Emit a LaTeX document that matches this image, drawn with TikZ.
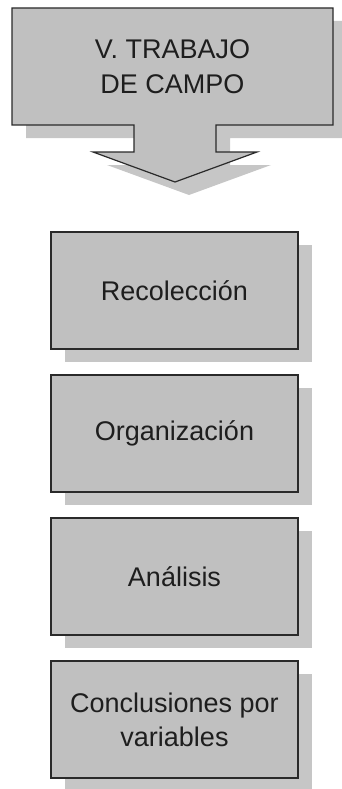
\documentclass[tikz,border=0pt]{standalone}
\usepackage{fontspec}
\setmainfont{Liberation Sans}
\usepackage{xcolor}
\usepackage{tikz}
\usetikzlibrary{positioning,shadows}
\definecolor{BoxGray}{HTML}{C0C0C0}
\definecolor{ShadowGray}{HTML}{C6C6C6}
\definecolor{EdgeGray}{HTML}{2A2A2A}
\definecolor{TextGray}{HTML}{1E1E1E}

\begin{document}
\begin{tikzpicture}[
  x=1pt,y=1pt,
  node distance=26pt,
  shade/.style={drop shadow={shadow xshift=14pt,shadow yshift=-13pt,fill=ShadowGray,opacity=1}},
  callout/.style={draw=EdgeGray,fill=BoxGray,line width=1.2pt,line join=miter,shade},
  titletext/.style={text=TextGray,align=center,font=\fontsize{27}{35}\selectfont},
  stepbox/.style={draw=EdgeGray,fill=BoxGray,line width=1.2pt,minimum width=247pt,minimum height=117pt,
    outer sep=0pt,inner sep=0pt,align=center,text=TextGray,font=\fontsize{27}{34}\selectfont,shade}
]
\useasboundingbox (0,0) rectangle (341,-789);
% cuadro con flecha
\path[callout] (12,-8) -- (333,-8) -- (333,-125) -- (216,-125) -- (216,-152) -- (257,-152)
  -- (175,-182) -- (93,-152) -- (134,-152) -- (134,-125) -- (12,-125) -- cycle;
\node[titletext] (campo) at (172.5,-67) {V. TRABAJO\\DE CAMPO};
% etapas
\node[stepbox] (recol) at (174.5,-290.5) {Recolección};
\node[stepbox,below=of recol] (organ) {Organización};
\node[stepbox,below=of organ] (anal) {Análisis};
\node[stepbox,below=of anal] (concl) {Conclusiones por\\variables};
\end{tikzpicture}
\end{document}
